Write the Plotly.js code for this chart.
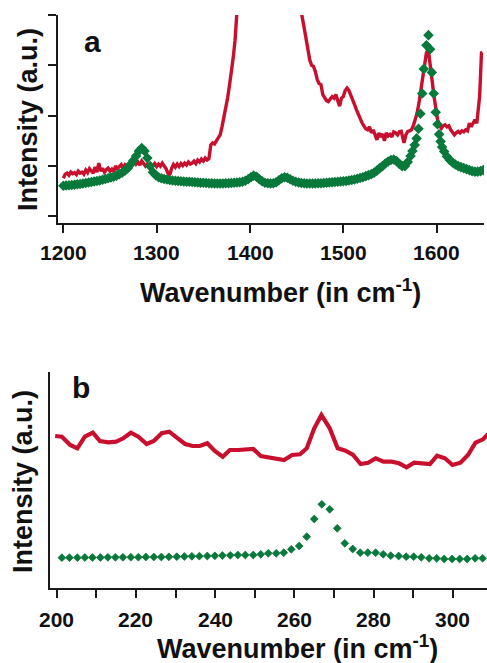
<!DOCTYPE html>
<html>
<head>
<meta charset="utf-8">
<script src="https://cdn.plot.ly/plotly-3.0.1.min.js"></script>
<style>html,body{margin:0;padding:0;background:#fff;} #chart{width:487px;height:663px;}</style>
</head>
<body>
<div id="chart"></div>
<script>
// ---------- Panel a data ----------
const ticksA = [1200, 1300, 1400, 1500, 1600];
const ticksAText = ["1200", "1300", "1400", "1500", "1600"];

const redA_x = [1200,1202,1204,1206,1208,1210,1212,1214,1216,1218,1220,1222,1224,1226,1228,1230,1232,1234,1236,1238,1240,1242,1244,1246,1248,1250,1252,1254,1256,1258,1260,1262,1264,1266,1268,1270,1272,1274,1276,1278,1280,1282,1284,1286,1288,1290,1292,1294,1296,1298,1300,1302,1304,1306,1308,1310,1312,1314,1316,1318,1320,1322,1324,1326,1328,1330,1332,1334,1336,1338,1340,1342,1344,1346,1348,1350,1352,1354,1356,1358,1360,1362,1364,1366,1368,1370,1372,1374,1376,1378,1380,1382,1384,1386,1390,1400,1440,1452,1455,1458,1460,1462,1464,1466,1468,1470,1472,1474,1476,1478,1480,1482,1484,1486,1488,1490,1492,1494,1496,1498,1500,1502,1504,1506,1508,1510,1512,1514,1516,1518,1520,1522,1524,1526,1528,1530,1532,1534,1536,1538,1540,1542,1544,1546,1548,1550,1552,1554,1556,1558,1560,1562,1564,1565,1567,1569,1571,1573,1575,1577,1579,1581,1583,1585,1587,1589,1591,1593,1595,1597,1599,1601,1603,1605,1607,1609,1611,1613,1615,1617,1619,1621,1623,1625,1627,1629,1631,1633,1635,1637,1639,1641,1643,1645,1646,1647,1648,1649];
const redA_y = [0.76,0.84,0.86,0.82,0.88,0.85,0.87,0.83,0.90,0.86,0.88,0.84,0.92,0.87,0.95,0.90,0.86,0.98,0.88,1.06,0.90,0.96,0.88,0.93,0.96,0.90,0.94,0.89,1.00,0.95,0.98,1.03,0.96,1.02,0.97,1.06,1.00,1.05,1.10,1.04,1.08,1.02,1.10,1.05,1.00,1.04,0.98,1.03,1.00,1.05,0.99,1.04,1.00,1.06,1.01,0.95,0.86,0.82,0.95,1.03,0.98,1.04,0.99,1.05,1.01,1.06,1.02,1.08,1.04,1.06,1.10,1.05,1.12,1.08,1.14,1.10,1.16,1.12,1.15,1.42,1.46,1.44,1.50,1.56,1.62,1.78,1.95,2.12,2.35,2.60,2.85,3.15,3.50,4.05,5.2,8.0,8.0,5.0,4.05,3.75,3.55,3.30,3.11,3.00,2.98,2.88,2.72,2.64,2.62,2.42,2.36,2.30,2.28,2.33,2.38,2.35,2.42,2.30,2.19,2.35,2.38,2.50,2.55,2.50,2.42,2.33,2.22,2.12,2.02,1.95,1.86,1.80,1.74,1.72,1.78,1.66,1.72,1.62,1.52,1.66,1.58,1.64,1.50,1.66,1.60,1.63,1.58,1.68,1.66,1.62,1.68,1.69,1.55,1.46,1.62,1.69,1.70,1.72,1.80,1.92,2.05,2.25,2.52,2.80,3.08,3.25,3.31,3.05,2.72,2.40,2.10,1.92,1.82,1.75,1.80,1.82,1.78,1.80,1.72,1.66,1.62,1.66,1.69,1.66,1.70,1.68,1.72,1.70,1.85,1.78,1.84,1.92,1.85,2.20,2.38,2.80,3.25,3.26];

const greenA_x = [1200,1203,1206,1209,1212,1215,1218,1221,1224,1227,1230,1233,1236,1239,1242,1245,1248,1251,1254,1257,1260,1263,1266,1269,1272,1275,1278,1281,1284,1287,1290,1293,1296,1299,1302,1305,1308,1311,1314,1317,1320,1323,1326,1329,1332,1335,1338,1341,1344,1347,1350,1353,1356,1359,1362,1365,1368,1371,1374,1377,1380,1383,1386,1389,1392,1395,1398,1401,1404,1407,1410,1413,1416,1419,1422,1425,1428,1431,1434,1437,1440,1443,1446,1449,1452,1455,1458,1461,1464,1467,1470,1473,1476,1479,1482,1485,1488,1491,1494,1497,1500,1503,1506,1509,1512,1515,1518,1521,1524,1527,1530,1533,1536,1539,1542,1545,1548,1551,1554,1557,1560,1563,1566,1569,1572,1574,1576.5,1578.5,1580.5,1582.6,1584.5,1586.2,1589,1591.2,1593,1594.8,1596.8,1599,1600.9,1602.6,1604.2,1605.8,1608,1611,1614,1617,1620,1623,1626,1629,1632,1635,1638,1641,1644,1647,1650];
const greenA_y = [0.61,0.615,0.62,0.625,0.63,0.64,0.645,0.655,0.665,0.675,0.685,0.695,0.705,0.715,0.73,0.745,0.76,0.775,0.79,0.81,0.84,0.87,0.91,0.96,1.03,1.11,1.20,1.30,1.36,1.30,1.16,1.00,0.88,0.82,0.78,0.76,0.745,0.735,0.725,0.715,0.71,0.705,0.70,0.695,0.69,0.69,0.685,0.68,0.675,0.67,0.67,0.665,0.66,0.66,0.655,0.655,0.655,0.655,0.66,0.66,0.665,0.67,0.675,0.68,0.69,0.71,0.74,0.78,0.81,0.79,0.74,0.70,0.67,0.66,0.655,0.66,0.68,0.72,0.76,0.78,0.77,0.74,0.71,0.69,0.675,0.665,0.66,0.655,0.655,0.655,0.655,0.66,0.66,0.665,0.67,0.675,0.68,0.685,0.69,0.695,0.70,0.705,0.715,0.725,0.735,0.75,0.765,0.78,0.80,0.82,0.84,0.87,0.91,0.96,1.00,1.05,1.09,1.12,1.13,1.10,1.04,1.00,1.00,1.08,1.20,1.30,1.42,1.55,1.74,2.04,2.44,2.93,3.40,3.60,3.32,2.86,2.44,2.07,1.83,1.63,1.49,1.38,1.29,1.19,1.12,1.07,1.03,1.00,0.98,0.96,0.94,0.92,0.90,0.89,0.89,0.90,0.92];

// ---------- Panel b data ----------
const ticksB = [200, 220, 240, 260, 280, 300];
const ticksBText = ["200", "220", "240", "260", "280", "300"];
const minorTicksB = [210, 230, 250, 270, 290];

const redB_x = [199.6,201.3,203.4,205.2,207.1,209.1,210.9,213.0,215.0,216.8,218.7,220.6,222.7,224.5,226.5,228.4,230.3,232.4,234.3,236.1,238.0,239.9,241.9,243.7,245.8,247.7,249.6,251.5,253.6,255.5,257.4,259.4,261.4,263.1,265.0,266.8,268.9,270.9,272.9,274.8,276.7,278.6,280.5,282.5,284.5,286.4,288.3,290.2,292.2,294.2,296.0,298.0,299.9,301.9,303.8,305.7,307.6,308.9];
const redB_y = [1.52,1.513,1.43,1.397,1.513,1.553,1.47,1.457,1.463,1.497,1.553,1.513,1.44,1.47,1.547,1.563,1.503,1.44,1.42,1.42,1.447,1.37,1.313,1.38,1.38,1.387,1.39,1.32,1.307,1.297,1.28,1.33,1.337,1.397,1.597,1.73,1.597,1.397,1.373,1.33,1.24,1.253,1.297,1.263,1.263,1.247,1.207,1.253,1.247,1.24,1.323,1.297,1.23,1.253,1.33,1.453,1.487,1.54];

const greenB_x = [201.3,203.2,205.2,207.1,209.0,211.0,212.9,214.8,216.7,218.7,220.6,222.5,224.5,226.4,228.3,230.3,232.2,234.1,236.0,238.0,239.9,241.8,243.8,245.7,247.6,249.6,251.5,253.4,255.4,257.3,259.2,261.2,263.1,265.0,266.9,268.9,270.8,272.7,274.7,276.6,278.5,280.5,282.4,284.3,286.3,288.2,290.1,292.0,294.0,295.9,297.8,299.8,301.7,303.6,305.6,307.5];
const greenB_y = [0.303,0.303,0.303,0.305,0.305,0.305,0.307,0.307,0.307,0.308,0.308,0.31,0.31,0.31,0.312,0.313,0.315,0.317,0.318,0.32,0.322,0.325,0.327,0.33,0.33,0.33,0.337,0.347,0.347,0.353,0.387,0.42,0.513,0.69,0.837,0.787,0.597,0.447,0.39,0.353,0.353,0.353,0.337,0.323,0.32,0.313,0.313,0.307,0.297,0.297,0.29,0.29,0.29,0.29,0.297,0.297];

// ---------- Styles ----------
const RED = '#c8102e';
const GREEN = '#08793a';
const AX = '#1a1a1a';
const FONT = 'Liberation Sans, Arial, Helvetica, sans-serif';
const W = 487, H = 663;
const px = v => v / W;
const py = v => 1 - v / H;

const traces = [
  {x: redA_x, y: redA_y, xaxis: 'x', yaxis: 'y', type: 'scatter', mode: 'lines',
   line: {color: RED, width: 3.4}, hoverinfo: 'skip'},
  {x: greenA_x, y: greenA_y, xaxis: 'x', yaxis: 'y', type: 'scatter', mode: 'markers',
   marker: {symbol: 'diamond', size: 6.5, color: GREEN, line: {color: GREEN, width: 1.5}}, hoverinfo: 'skip'},
  {x: redB_x, y: redB_y, xaxis: 'x2', yaxis: 'y2', type: 'scatter', mode: 'lines',
   line: {color: RED, width: 4.2}, hoverinfo: 'skip'},
  {x: greenB_x, y: greenB_y, xaxis: 'x2', yaxis: 'y2', type: 'scatter', mode: 'markers',
   marker: {symbol: 'diamond', size: 6, color: GREEN, line: {color: GREEN, width: 0.8}}, hoverinfo: 'skip'}
];

const tickFont = {family: FONT, size: 21, color: '#111', weight: 'bold'};
const titleFont = {family: FONT, size: 27, color: '#111', weight: 'bold'};
const ytitleFont = {family: FONT, size: 27, color: '#111', weight: 'bold'};
const labelFont = {family: FONT, size: 30, color: '#111', weight: 'bold'};

// tick labels placed on the axes' own data coordinates
const tickLabelAnn = (vals, texts, xref, yPix) => vals.map((v, i) => ({
  text: texts[i], xref: xref, yref: 'paper', x: v, y: py(yPix),
  xanchor: 'center', yanchor: 'middle', showarrow: false, font: tickFont
}));

const layout = {
  width: W, height: H,
  margin: {l: 0, r: 0, t: 0, b: 0, pad: 0},
  paper_bgcolor: '#fff', plot_bgcolor: '#fff',
  showlegend: false,
  xaxis: {
    domain: [px(58), px(484)], anchor: 'y', range: [1194.3, 1650.7],
    tickmode: 'array', tickvals: ticksA, ticktext: ticksAText, showticklabels: false,
    ticks: 'outside', ticklen: 8, tickwidth: 2, tickcolor: AX,
    showline: true, linewidth: 2, linecolor: AX, mirror: false,
    showgrid: false, zeroline: false
  },
  yaxis: {
    domain: [1 - 223 / H, 1 - 15 / H], anchor: 'x', range: [-0.13, 4.0],
    tickmode: 'array', tickvals: [0, 1, 2, 3, 4], showticklabels: false,
    ticks: 'outside', ticklen: 8, tickwidth: 2, tickcolor: AX,
    showline: true, linewidth: 2, linecolor: AX,
    showgrid: false, zeroline: false
  },
  xaxis2: {
    domain: [px(50), 1], anchor: 'y2', range: [198.3, 308.6],
    tickmode: 'array', tickvals: ticksB, ticktext: ticksBText, showticklabels: false,
    ticks: 'outside', ticklen: 8, tickwidth: 2, tickcolor: AX,
    minor: {tickmode: 'array', tickvals: minorTicksB, ticks: 'outside', ticklen: 8, tickwidth: 2, tickcolor: AX, showgrid: false},
    showline: true, linewidth: 2, linecolor: AX,
    showgrid: false, zeroline: false
  },
  yaxis2: {
    domain: [1 - 588 / H, 1 - 372 / H], anchor: 'x2', range: [0, 2.16],
    showticklabels: false, ticks: '',
    showline: true, linewidth: 2, linecolor: AX,
    showgrid: false, zeroline: false
  },
  annotations: [
    ...tickLabelAnn(ticksA, ticksAText, 'x', 253),
    ...tickLabelAnn(ticksB, ticksBText, 'x2', 619),
    {text: 'Wavenumber (in cm<sup>-1</sup>)', xref: 'paper', yref: 'paper', x: px(280), y: py(291),
     xanchor: 'center', yanchor: 'middle', showarrow: false, font: titleFont},
    {text: 'Intensity (a.u.)', xref: 'paper', yref: 'paper', x: px(28), y: py(120),
     xanchor: 'center', yanchor: 'middle', textangle: -90, showarrow: false, font: ytitleFont},
    {text: 'a', xref: 'paper', yref: 'paper', x: px(92), y: py(41),
     xanchor: 'center', yanchor: 'middle', showarrow: false, font: labelFont},
    {text: 'Wavenumber (in cm<sup>-1</sup>)', xref: 'paper', yref: 'paper', x: px(297), y: 0,
     xanchor: 'center', yanchor: 'bottom', yshift: -3, showarrow: false, font: titleFont},
    {text: 'Intensity (a.u.)', xref: 'paper', yref: 'paper', x: px(23), y: py(482),
     xanchor: 'center', yanchor: 'middle', textangle: -90, showarrow: false, font: ytitleFont},
    {text: 'b', xref: 'paper', yref: 'paper', x: px(81), y: py(387),
     xanchor: 'center', yanchor: 'middle', showarrow: false, font: labelFont}
  ]
};

Plotly.newPlot('chart', traces, layout, {staticPlot: true, displayModeBar: false});
</script>
</body>
</html>
